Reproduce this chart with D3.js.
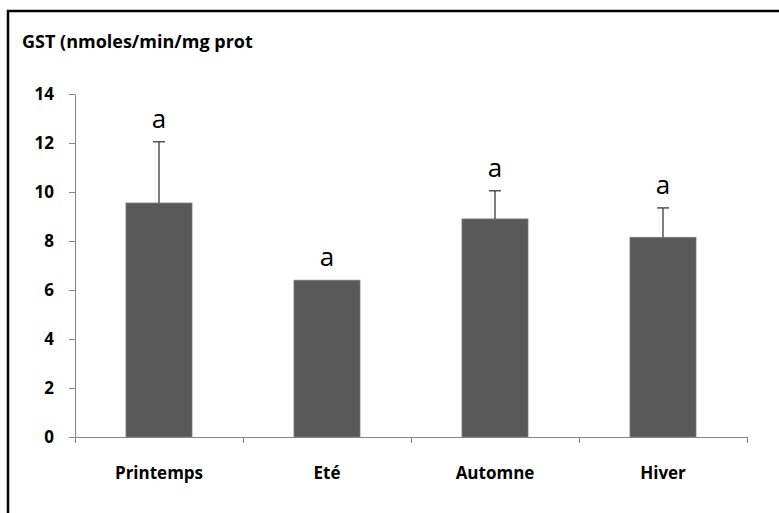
<!DOCTYPE html>
<html>
<head>
<meta charset="utf-8">
<script src="https://cdn.jsdelivr.net/npm/d3@7"></script>
<style>
  body { margin: 0; background: #fff; }
  svg { display: block; font-family: "Open Sans", "Noto Sans", sans-serif; }
  .axis path, .axis line { stroke: #868686; }
  .axis text { font-family: "Open Sans", "Noto Sans", sans-serif; font-weight: bold; fill: #000; }
</style>
</head>
<body>
<svg id="chart"></svg>
<script>
// data
const seasons = ['Printemps', 'Eté', 'Automne', 'Hiver'];
const gstMeans = [9.55, 6.4, 8.9, 8.15];
const gstErrors = [2.5, 0, 1.15, 1.2];
const groupLetters = ['a', 'a', 'a', 'a'];
const yTicks = [0, 2, 4, 6, 8, 10, 12, 14];

const width = 779, height = 513;
const margin = {top: 94, right: 32, bottom: 76, left: 75};

const svg = d3.select('#chart')
    .attr('width', width)
    .attr('height', height);

// frame: only top and left edges are visible in the picture
svg.append('path')
    .attr('d', `M8,${height} V11 H${width}`)
    .attr('fill', 'none')
    .attr('stroke', '#000')
    .attr('stroke-width', 2.5);

const innerW = width - margin.left - margin.right;
const innerH = height - margin.top - margin.bottom;

const chart = svg.append('g')
    .attr('transform', `translate(${margin.left},${margin.top})`);

const xScale = d3.scaleBand()
    .domain(seasons)
    .range([0, innerW])
    .paddingInner(0.607)
    .paddingOuter(0.3035);

const yScale = d3.scaleLinear()
    .domain([0, 14])
    .range([innerH, 0]);

// category boundaries for the x tick marks
const boundScale = d3.scaleLinear()
    .domain([0, seasons.length])
    .range([0, innerW]);

// y axis
const yAxisG = chart.append('g')
    .attr('class', 'axis y-axis')
    .call(d3.axisLeft(yScale).tickValues(yTicks).tickSize(6).tickSizeOuter(0).tickPadding(15));
yAxisG.selectAll('text').style('font-size', '17px');

// x axis: boundary ticks
chart.append('g')
    .attr('class', 'axis x-axis')
    .attr('transform', `translate(0,${innerH})`)
    .call(d3.axisBottom(boundScale).tickValues(d3.range(seasons.length + 1)).tickSize(6).tickSizeOuter(0).tickFormat(''));

// x labels
chart.append('g')
    .attr('class', 'axis x-labels')
    .attr('transform', `translate(0,${innerH})`)
    .call(d3.axisBottom(xScale).tickSize(0).tickPadding(30))
    .call(g => g.select('.domain').remove())
    .selectAll('text').style('font-size', '17px');

const rows = seasons.map((s, i) => ({season: s, mean: gstMeans[i], err: gstErrors[i], letter: groupLetters[i]}));

// bars
chart.selectAll('.bar')
    .data(rows)
    .join('rect')
    .attr('class', 'bar')
    .attr('x', d => xScale(d.season))
    .attr('width', xScale.bandwidth())
    .attr('y', d => yScale(d.mean))
    .attr('height', d => innerH - yScale(d.mean))
    .attr('fill', '#595959')
    .attr('stroke', '#7a7a7a')
    .attr('stroke-width', 0.8);

// upper error bars
const errG = chart.selectAll('.err')
    .data(rows.filter(d => d.err > 0))
    .join('g')
    .attr('class', 'err')
    .attr('stroke', '#3a3a3a')
    .attr('stroke-width', 1.3);
errG.append('line')
    .attr('x1', d => xScale(d.season) + xScale.bandwidth() / 2)
    .attr('x2', d => xScale(d.season) + xScale.bandwidth() / 2)
    .attr('y1', d => yScale(d.mean))
    .attr('y2', d => yScale(d.mean + d.err));
errG.append('line')
    .attr('x1', d => xScale(d.season) + xScale.bandwidth() / 2 - 6)
    .attr('x2', d => xScale(d.season) + xScale.bandwidth() / 2 + 6)
    .attr('y1', d => yScale(d.mean + d.err))
    .attr('y2', d => yScale(d.mean + d.err));

// significance letters
chart.selectAll('.letter')
    .data(rows)
    .join('text')
    .attr('class', 'letter')
    .attr('x', d => xScale(d.season) + xScale.bandwidth() / 2)
    .attr('y', d => yScale(d.mean + d.err) - 14)
    .attr('text-anchor', 'middle')
    .style('font-size', '26px')
    .text(d => d.letter);

// title
svg.append('text')
    .attr('x', 22)
    .attr('y', 48)
    .style('font-size', '18px')
    .style('font-weight', 'bold')
    .text('GST (nmoles/min/mg prot');
</script>
</body>
</html>
